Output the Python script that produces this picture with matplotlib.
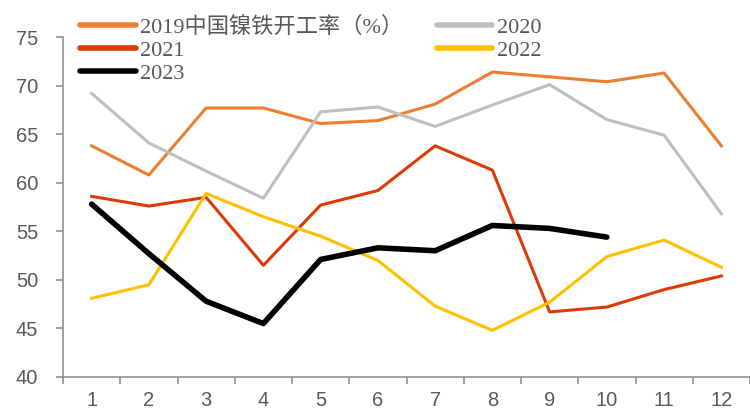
import numpy as np
import matplotlib.pyplot as plt
from matplotlib.ticker import FixedLocator, NullFormatter

months = list(range(1, 13))
y2019 = [63.8, 60.8, 67.7, 67.7, 66.1, 66.4, 68.1, 71.4, 70.9, 70.4, 71.3, 63.8]
y2020 = [69.2, 64.1, 61.2, 58.4, 67.3, 67.8, 65.8, 68.0, 70.1, 66.5, 64.9, 56.8]
y2021 = [58.6, 57.6, 58.5, 51.5, 57.7, 59.2, 63.8, 61.3, 46.7, 47.2, 49.0, 50.4]
y2022 = [48.1, 49.5, 58.9, 56.5, 54.5, 52.0, 47.3, 44.8, 47.7, 52.4, 54.1, 51.3]
y2023 = [57.8, 52.7, 47.8, 45.5, 52.1, 53.3, 53.0, 55.6, 55.3, 54.4]
labels = ["2019中国镍铁开工率（%）", "2020", "2021", "2022", "2023"]

fig = plt.figure(figsize=(7.5, 4.12), dpi=100)
ax = fig.add_axes([0.084, 0.085, 0.916, 0.825])

l19, = ax.plot(months, y2019, color="#ED7D31", lw=2.2, label=labels[0])
l20, = ax.plot(months, y2020, color="#BFBFBF", lw=2.2, label=labels[1])
l21, = ax.plot(months, y2021, color="#DE3A05", lw=2.2, label=labels[2])
l22, = ax.plot(months, y2022, color="#FFC000", lw=2.2, label=labels[3])
l23, = ax.plot(months[:len(y2023)], y2023, color="black", lw=4, label=labels[4],
               solid_capstyle="round")

ax.set_xlim(0.5, 12.5)
ax.set_ylim(40, 75)
ax.set_yticks(np.arange(40, 76, 5))
ax.set_xticks(months)
ax.xaxis.set_minor_locator(FixedLocator(np.arange(0.5, 12.6, 1)))
ax.xaxis.set_minor_formatter(NullFormatter())
ax.tick_params(axis="x", which="major", length=0, pad=10)
ax.tick_params(axis="x", which="minor", length=5, width=1.1, color="#898989",
               direction="out")
ax.tick_params(axis="y", length=5, width=1.1, color="#898989", direction="out",
               pad=13)
for lab in ax.get_xticklabels() + ax.get_yticklabels():
    lab.set_family("Liberation Sans")
    lab.set_fontsize(14.5)
    lab.set_color("#595959")

for s in ["top", "right"]:
    ax.spines[s].set_visible(False)
for s in ["left", "bottom"]:
    ax.spines[s].set_color("#898989")
    ax.spines[s].set_linewidth(1.1)

# row-wise order: 2019 2020 / 2021 2022 / 2023
handles = [l19, l21, l23, l20, l22]
leg = fig.legend(handles, [h.get_label() for h in handles],
                 loc="upper left", bbox_to_anchor=(69 / 750, 1 - 6 / 412), ncol=2,
                 frameon=False, borderpad=0, handlelength=2.5, handletextpad=0.2,
                 labelspacing=0.1, columnspacing=1.5,
                 prop={"family": ["Liberation Serif", "Noto Sans CJK SC"], "size": 16})
for h in leg.get_lines():
    h.set_linewidth(4)
    h.set_solid_capstyle("round")
for t in leg.get_texts():
    t.set_color("#595959")

fig.savefig("out.png", dpi=100)
